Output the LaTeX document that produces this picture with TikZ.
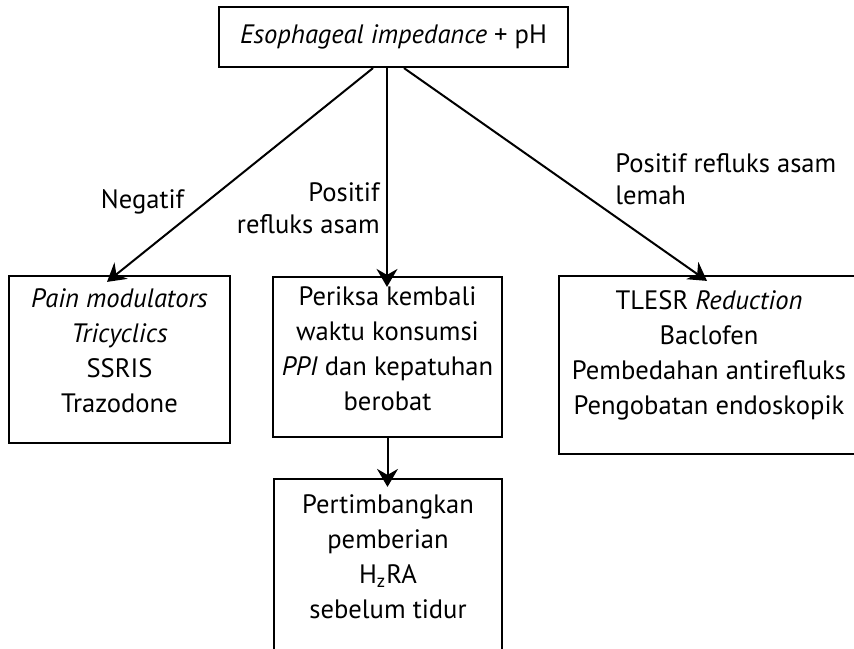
\documentclass[tikz,border=0pt]{standalone}
\usepackage{fontspec}
\setmainfont{PT Sans}
\usetikzlibrary{arrows.meta, calc}

\newcommand{\vpad}[1]{\rule[-#1]{0pt}{#1}}

\begin{document}
\begin{tikzpicture}[
    x=0.5pt, y=-0.5pt,
    font=\fontsize{13.3}{17.5}\selectfont,
    box/.style={draw, line width=1.1pt, rectangle, align=center, inner sep=0pt},
    lbl/.style={inner sep=0pt, font=\fontsize{13.3}{16}\selectfont},
    arr/.style={-{Stealth[length=9pt, width=10.5pt, inset=3pt]}, line width=1pt}
]
\useasboundingbox (0,0) rectangle (854,648);

\node[box, minimum width=174.5pt, minimum height=30pt] (src) at (393.5,37) {\textit{Esophageal impedance} + pH};

\node[box, minimum width=110.5pt, minimum height=83.5pt] (neg) at (119.5,359.5) {\textit{Pain modulators}\\\textit{Tricyclics}\\SSRIS\\Trazodone\vpad{9pt}};
\node[box, minimum width=114.5pt, minimum height=80pt] (ppi) at (387.5,357) {Periksa kembali\\waktu konsumsi\\\textit{PPI} dan kepatuhan\\berobat\vpad{8pt}};
\node[box, minimum width=150pt, minimum height=89pt] (tlesr) at (709,365) {TLESR \textit{Reduction}\\Baclofen\\Pembedahan antirefluks\\Pengobatan endoskopik\vpad{12pt}};
\node[box, minimum width=114pt, minimum height=92.5pt] (h2ra) at (388,571.5) {Pertimbangkan\\pemberian\\H\textsubscript{z}RA\\sebelum tidur\vpad{15pt}};

\draw[arr] ($(src.south)+(-20.5,0)$) -- ($(neg.north)+(-12.5,7)$);
\draw[arr] ($(src.south)+(-6.5,0)$) -- ($(ppi.north)+(-0.5,11)$);
\draw[arr] ($(src.south)+(10.5,0)$) -- ($(tlesr.north)+(-2,6)$);
\draw[arr] (ppi.south) -- ($(h2ra.north)+(-0.5,9)$);

\node[lbl, anchor=base] (lneg) at (142.5,208) {Negatif};
\node[lbl, anchor=north east, align=right] (lacid) at (380,182) {Positif\\refluks asam};
\node[lbl, anchor=north west, align=left] (lweak) at (615,153) {Positif refluks asam\\lemah};

\end{tikzpicture}
\end{document}
